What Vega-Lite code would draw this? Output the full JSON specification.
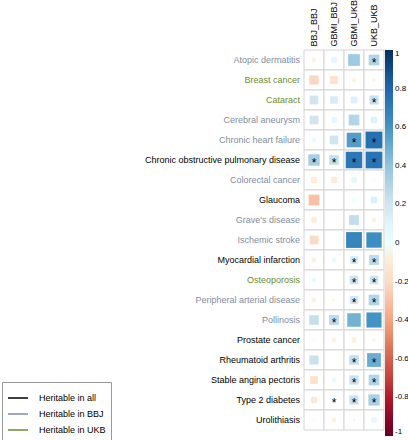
{
  "$schema": "https://vega.github.io/schema/vega-lite/v6.json",
  "autosize": {"type": "none"},
  "padding": {"left": 304, "top": 50, "right": 24, "bottom": 10},
  "width": 80,
  "height": 380,
  "background": "white",
  "config": {"view": {"stroke": null}, "font": "Liberation Sans"},
  "datasets": {
    "cells": [
      {"disease": "Atopic dermatitis", "gwas": "BBJ_BBJ", "r": -0.04, "sig": ""},
      {"disease": "Atopic dermatitis", "gwas": "GBMI_BBJ", "r": 0.08, "sig": ""},
      {"disease": "Atopic dermatitis", "gwas": "GBMI_UKB", "r": 0.36, "sig": ""},
      {"disease": "Atopic dermatitis", "gwas": "UKB_UKB", "r": 0.3, "sig": "*"},
      {"disease": "Breast cancer", "gwas": "BBJ_BBJ", "r": -0.22, "sig": ""},
      {"disease": "Breast cancer", "gwas": "GBMI_BBJ", "r": -0.16, "sig": ""},
      {"disease": "Breast cancer", "gwas": "GBMI_UKB", "r": -0.04, "sig": ""},
      {"disease": "Breast cancer", "gwas": "UKB_UKB", "r": -0.03, "sig": ""},
      {"disease": "Cataract", "gwas": "BBJ_BBJ", "r": 0.2, "sig": ""},
      {"disease": "Cataract", "gwas": "GBMI_BBJ", "r": 0.15, "sig": ""},
      {"disease": "Cataract", "gwas": "GBMI_UKB", "r": 0.12, "sig": ""},
      {"disease": "Cataract", "gwas": "UKB_UKB", "r": 0.22, "sig": "*"},
      {"disease": "Cerebral aneurysm", "gwas": "BBJ_BBJ", "r": 0.2, "sig": ""},
      {"disease": "Cerebral aneurysm", "gwas": "GBMI_BBJ", "r": 0.08, "sig": ""},
      {"disease": "Cerebral aneurysm", "gwas": "GBMI_UKB", "r": 0.3, "sig": ""},
      {"disease": "Cerebral aneurysm", "gwas": "UKB_UKB", "r": 0.11, "sig": ""},
      {"disease": "Chronic heart failure", "gwas": "BBJ_BBJ", "r": 0.05, "sig": ""},
      {"disease": "Chronic heart failure", "gwas": "GBMI_BBJ", "r": 0.2, "sig": ""},
      {"disease": "Chronic heart failure", "gwas": "GBMI_UKB", "r": 0.56, "sig": "*"},
      {"disease": "Chronic heart failure", "gwas": "UKB_UKB", "r": 0.75, "sig": "*"},
      {"disease": "Chronic obstructive pulmonary disease", "gwas": "BBJ_BBJ", "r": 0.34, "sig": "*"},
      {"disease": "Chronic obstructive pulmonary disease", "gwas": "GBMI_BBJ", "r": 0.24, "sig": "*"},
      {"disease": "Chronic obstructive pulmonary disease", "gwas": "GBMI_UKB", "r": 0.72, "sig": "*"},
      {"disease": "Chronic obstructive pulmonary disease", "gwas": "UKB_UKB", "r": 0.74, "sig": "*"},
      {"disease": "Colorectal cancer", "gwas": "BBJ_BBJ", "r": -0.09, "sig": ""},
      {"disease": "Colorectal cancer", "gwas": "GBMI_BBJ", "r": -0.09, "sig": ""},
      {"disease": "Colorectal cancer", "gwas": "GBMI_UKB", "r": 0.08, "sig": ""},
      {"disease": "Colorectal cancer", "gwas": "UKB_UKB", "r": 0.01, "sig": ""},
      {"disease": "Glaucoma", "gwas": "BBJ_BBJ", "r": -0.3, "sig": ""},
      {"disease": "Glaucoma", "gwas": "GBMI_BBJ", "r": 0.0, "sig": ""},
      {"disease": "Glaucoma", "gwas": "GBMI_UKB", "r": 0.03, "sig": ""},
      {"disease": "Glaucoma", "gwas": "UKB_UKB", "r": 0.12, "sig": ""},
      {"disease": "Grave's disease", "gwas": "BBJ_BBJ", "r": -0.08, "sig": ""},
      {"disease": "Grave's disease", "gwas": "GBMI_BBJ", "r": 0.0, "sig": ""},
      {"disease": "Grave's disease", "gwas": "GBMI_UKB", "r": 0.25, "sig": ""},
      {"disease": "Grave's disease", "gwas": "UKB_UKB", "r": -0.04, "sig": ""},
      {"disease": "Ischemic stroke", "gwas": "BBJ_BBJ", "r": -0.2, "sig": ""},
      {"disease": "Ischemic stroke", "gwas": "GBMI_BBJ", "r": 0.0, "sig": ""},
      {"disease": "Ischemic stroke", "gwas": "GBMI_UKB", "r": 0.66, "sig": ""},
      {"disease": "Ischemic stroke", "gwas": "UKB_UKB", "r": 0.62, "sig": ""},
      {"disease": "Myocardial infarction", "gwas": "BBJ_BBJ", "r": -0.05, "sig": ""},
      {"disease": "Myocardial infarction", "gwas": "GBMI_BBJ", "r": 0.05, "sig": ""},
      {"disease": "Myocardial infarction", "gwas": "GBMI_UKB", "r": 0.16, "sig": "*"},
      {"disease": "Myocardial infarction", "gwas": "UKB_UKB", "r": 0.26, "sig": "*"},
      {"disease": "Osteoporosis", "gwas": "BBJ_BBJ", "r": 0.05, "sig": ""},
      {"disease": "Osteoporosis", "gwas": "GBMI_BBJ", "r": 0.0, "sig": ""},
      {"disease": "Osteoporosis", "gwas": "GBMI_UKB", "r": 0.2, "sig": "*"},
      {"disease": "Osteoporosis", "gwas": "UKB_UKB", "r": 0.2, "sig": "*"},
      {"disease": "Peripheral arterial disease", "gwas": "BBJ_BBJ", "r": -0.05, "sig": ""},
      {"disease": "Peripheral arterial disease", "gwas": "GBMI_BBJ", "r": -0.02, "sig": ""},
      {"disease": "Peripheral arterial disease", "gwas": "GBMI_UKB", "r": 0.18, "sig": "*"},
      {"disease": "Peripheral arterial disease", "gwas": "UKB_UKB", "r": 0.3, "sig": "*"},
      {"disease": "Pollinosis", "gwas": "BBJ_BBJ", "r": 0.24, "sig": ""},
      {"disease": "Pollinosis", "gwas": "GBMI_BBJ", "r": 0.26, "sig": "*"},
      {"disease": "Pollinosis", "gwas": "GBMI_UKB", "r": 0.48, "sig": ""},
      {"disease": "Pollinosis", "gwas": "UKB_UKB", "r": 0.6, "sig": ""},
      {"disease": "Prostate cancer", "gwas": "BBJ_BBJ", "r": 0.01, "sig": ""},
      {"disease": "Prostate cancer", "gwas": "GBMI_BBJ", "r": -0.04, "sig": ""},
      {"disease": "Prostate cancer", "gwas": "GBMI_UKB", "r": -0.06, "sig": ""},
      {"disease": "Prostate cancer", "gwas": "UKB_UKB", "r": -0.03, "sig": ""},
      {"disease": "Rheumatoid arthritis", "gwas": "BBJ_BBJ", "r": 0.22, "sig": ""},
      {"disease": "Rheumatoid arthritis", "gwas": "GBMI_BBJ", "r": 0.01, "sig": ""},
      {"disease": "Rheumatoid arthritis", "gwas": "GBMI_UKB", "r": 0.24, "sig": "*"},
      {"disease": "Rheumatoid arthritis", "gwas": "UKB_UKB", "r": 0.5, "sig": "*"},
      {"disease": "Stable angina pectoris", "gwas": "BBJ_BBJ", "r": -0.16, "sig": ""},
      {"disease": "Stable angina pectoris", "gwas": "GBMI_BBJ", "r": 0.05, "sig": ""},
      {"disease": "Stable angina pectoris", "gwas": "GBMI_UKB", "r": 0.22, "sig": "*"},
      {"disease": "Stable angina pectoris", "gwas": "UKB_UKB", "r": 0.3, "sig": "*"},
      {"disease": "Type 2 diabetes", "gwas": "BBJ_BBJ", "r": -0.1, "sig": ""},
      {"disease": "Type 2 diabetes", "gwas": "GBMI_BBJ", "r": 0.01, "sig": "*"},
      {"disease": "Type 2 diabetes", "gwas": "GBMI_UKB", "r": 0.22, "sig": "*"},
      {"disease": "Type 2 diabetes", "gwas": "UKB_UKB", "r": 0.33, "sig": "*"},
      {"disease": "Urolithiasis", "gwas": "BBJ_BBJ", "r": 0.01, "sig": ""},
      {"disease": "Urolithiasis", "gwas": "GBMI_BBJ", "r": -0.05, "sig": ""},
      {"disease": "Urolithiasis", "gwas": "GBMI_UKB", "r": -0.01, "sig": ""},
      {"disease": "Urolithiasis", "gwas": "UKB_UKB", "r": 0.07, "sig": ""}
    ],
    "diseases": [
      {"disease": "Atopic dermatitis", "herit": "Heritable in BBJ"},
      {"disease": "Breast cancer", "herit": "Heritable in UKB"},
      {"disease": "Cataract", "herit": "Heritable in UKB"},
      {"disease": "Cerebral aneurysm", "herit": "Heritable in BBJ"},
      {"disease": "Chronic heart failure", "herit": "Heritable in BBJ"},
      {"disease": "Chronic obstructive pulmonary disease", "herit": "Heritable in all"},
      {"disease": "Colorectal cancer", "herit": "Heritable in BBJ"},
      {"disease": "Glaucoma", "herit": "Heritable in all"},
      {"disease": "Grave's disease", "herit": "Heritable in BBJ"},
      {"disease": "Ischemic stroke", "herit": "Heritable in BBJ"},
      {"disease": "Myocardial infarction", "herit": "Heritable in all"},
      {"disease": "Osteoporosis", "herit": "Heritable in UKB"},
      {"disease": "Peripheral arterial disease", "herit": "Heritable in BBJ"},
      {"disease": "Pollinosis", "herit": "Heritable in BBJ"},
      {"disease": "Prostate cancer", "herit": "Heritable in all"},
      {"disease": "Rheumatoid arthritis", "herit": "Heritable in all"},
      {"disease": "Stable angina pectoris", "herit": "Heritable in all"},
      {"disease": "Type 2 diabetes", "herit": "Heritable in all"},
      {"disease": "Urolithiasis", "herit": "Heritable in all"}
    ]
  },
  "encoding": {
    "y": {"field": "disease", "type": "nominal", "sort": null, "axis": null,
          "scale": {"paddingInner": 0, "paddingOuter": 0}}
  },
  "layer": [
    {
      "data": {"name": "cells"},
      "mark": {"type": "rect", "fill": "white", "stroke": "#d4d4d4", "strokeWidth": 1},
      "encoding": {
        "x": {"field": "gwas", "type": "nominal", "sort": null,
              "scale": {"paddingInner": 0, "paddingOuter": 0},
              "axis": {"orient": "top", "title": null, "labelAngle": -90, "domain": false, "ticks": false,
                       "labelPadding": 4, "labelFontSize": 9, "labelColor": "#000", "labelFont": "Liberation Sans"}}
      }
    },
    {
      "data": {"name": "cells"},
      "mark": {"type": "square", "opacity": 1, "strokeWidth": 0},
      "encoding": {
        "x": {"field": "gwas", "type": "nominal", "sort": null},
        "size": {"field": "r", "type": "quantitative", "legend": null,
                 "scale": {"domain": [-1, 0, 1], "range": [380, 0, 380]}},
        "color": {"field": "r", "type": "quantitative",
                  "scale": {"domain": [-1, -0.8, -0.6, -0.4, -0.2, 0, 0.2, 0.4, 0.6, 0.8, 1],
                            "range": ["#67001F", "#B2182B", "#D6604D", "#F4A582", "#FDDBC7", "#FFFFFF", "#D1E5F0", "#92C5DE", "#4393C3", "#2166AC", "#053061"]},
                  "legend": {"orient": "none", "legendX": 81, "legendY": 0, "title": null, "direction": "vertical",
                             "gradientLength": 386, "gradientThickness": 8, "gradientStrokeWidth": 0,
                             "values": [1, 0.8, 0.6, 0.4, 0.2, 0, -0.2, -0.4, -0.6, -0.8, -1],
                             "labelExpr": "datum.value + ''", "labelFontSize": 8, "labelColor": "#000",
                             "labelOffset": 2, "labelOverlap": false}}
      }
    },
    {
      "data": {"name": "cells"},
      "mark": {"type": "text", "fontSize": 12, "dy": 3, "color": "#000", "font": "Liberation Sans"},
      "encoding": {
        "x": {"field": "gwas", "type": "nominal", "sort": null},
        "text": {"field": "sig", "type": "nominal"}
      }
    },
    {
      "data": {"name": "diseases"},
      "mark": {"type": "text", "align": "right", "baseline": "middle", "dx": -4, "fontSize": 9, "strokeWidth": 0, "font": "Liberation Sans"},
      "encoding": {
        "x": {"datum": "BBJ_BBJ", "type": "nominal", "bandPosition": 0},
        "text": {"field": "disease", "type": "nominal"},
        "fill": {"field": "herit", "type": "nominal",
                 "scale": {"domain": ["Heritable in all", "Heritable in BBJ", "Heritable in UKB"],
                           "range": ["#000000", "#7f8ca0", "#6b8e2f"]},
                 "legend": {"orient": "none", "legendX": -302, "legendY": 332, "title": null,
                            "symbolType": "stroke", "symbolSize": 400, "symbolStrokeWidth": 1.5,
                            "labelFontSize": 9, "labelColor": "#000", "padding": 5, "rowPadding": -5.5,
                            "labelOffset": 10, "strokeColor": "#999", "fillColor": "white"}},
        "stroke": {"field": "herit", "type": "nominal",
                   "scale": {"domain": ["Heritable in all", "Heritable in BBJ", "Heritable in UKB"],
                             "range": ["#000000", "#7f8ca0", "#6b8e2f"]},
                   "legend": {"orient": "none", "legendX": -302, "legendY": 332, "title": null,
                              "symbolType": "stroke", "symbolSize": 400, "symbolStrokeWidth": 1.5,
                              "labelFontSize": 9, "labelColor": "#000", "padding": 5, "rowPadding": -5.5,
                              "labelOffset": 10, "strokeColor": "#999", "fillColor": "white"}}
      }
    }
  ]
}
